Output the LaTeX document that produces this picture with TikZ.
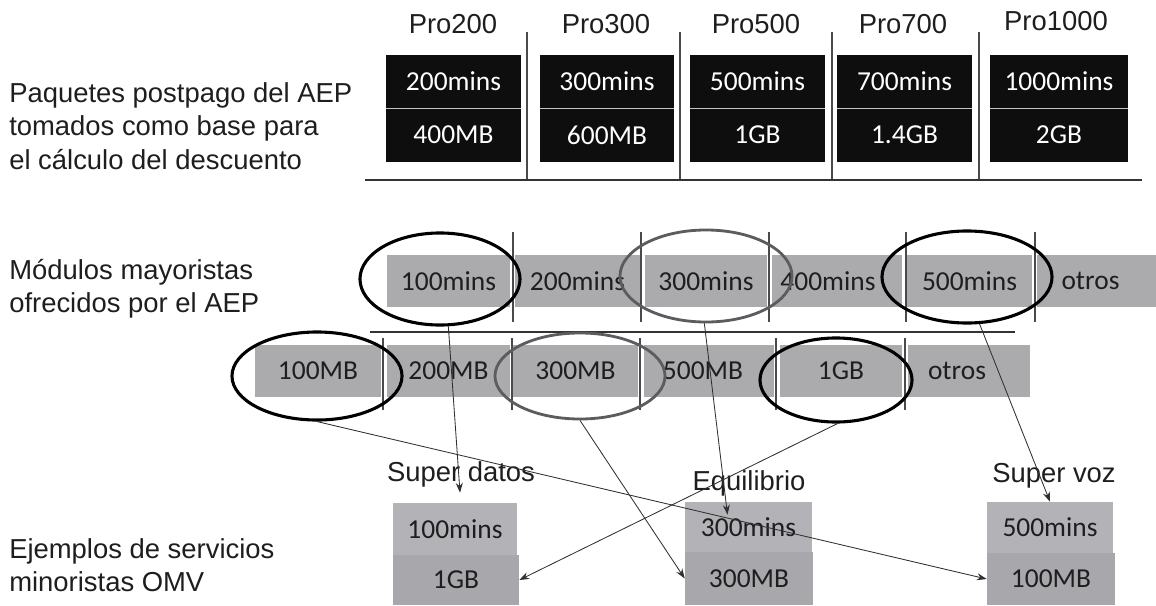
\documentclass[tikz,border=0pt]{standalone}
\usepackage{fontspec}
\setmainfont{Liberation Sans}
\newfontfamily\boxfont{Carlito}
\usetikzlibrary{shapes.geometric,arrows.meta,calc}
\definecolor{boxblack}{HTML}{0E0E0E}
\definecolor{rowgray}{HTML}{ABABAE}
\definecolor{btop}{HTML}{B3B2B6}
\definecolor{bbot}{HTML}{A8A7AB}
\definecolor{ellgray}{HTML}{5C5C60}
\definecolor{sepc}{HTML}{4A4A4A}
\definecolor{arrc}{HTML}{303030}
\definecolor{txt}{HTML}{1E1E1E}
\begin{document}
\begin{tikzpicture}[x=0.025cm,y=-0.025cm,
  lbl/.style={font=\fontsize{19.5}{23.8}\selectfont, inner sep=0pt, text=txt},
  side/.style={lbl, align=left, anchor=west},
  blk/.style={fill=boxblack, text=white, font=\boxfont\fontsize{19.5}{23}\selectfont, minimum width=3.35cm, inner sep=0pt},
  gseg/.style={fill=rowgray, text=txt, font=\boxfont\fontsize{19.5}{23}\selectfont, minimum height=1.3cm, inner sep=0pt},
  rbox/.style={text=txt, font=\boxfont\fontsize{19.5}{23}\selectfont, inner sep=0pt},
  sep/.style={draw=sepc, line width=0.8pt},
  hline/.style={draw=black!80, line width=1.1pt},
  ringb/.style={ellipse, draw=black, line width=2.2pt, inner sep=0pt},
  ringg/.style={ellipse, draw=ellgray, line width=2pt, inner sep=0pt},
  arr/.style={draw=arrc, line width=0.6pt, -{Stealth[length=7pt,width=5pt]}}
]
\useasboundingbox (0,0) rectangle (1156,605);
\fill[white] (0,0) rectangle (1156,605);

% left labels
\node[side] (l1) at (9,126) {Paquetes postpago del AEP\\tomados como base para\\el cálculo del descuento};
\node[side] (l2) at (9,289) {Módulos mayoristas\\ofrecidos por el AEP};
\node[side] (l3) at (9,565) {Ejemplos de servicios\\minoristas OMV};

% top: postpaid packages
\node[lbl, anchor=base] (t1) at (453,33) {Pro200};
\node[lbl, anchor=base] (t2) at (606,33) {Pro300};
\node[lbl, anchor=base] (t3) at (756,33) {Pro500};
\node[lbl, anchor=base] (t4) at (903,33) {Pro700};
\node[lbl, anchor=base] (t5) at (1056,30) {Pro1000};

\node[blk, minimum height=1.325cm] (p1a) at (453.5,81.5) {200mins};
\node[blk, minimum height=1.35cm]  (p1b) at (453.5,135) {400MB};
\node[blk, minimum height=1.325cm] (p2a) at (607,81.5) {300mins};
\node[blk, minimum height=1.35cm]  (p2b) at (607,135) {600MB};
\node[blk, minimum height=1.325cm] (p3a) at (757.5,81.5) {500mins};
\node[blk, minimum height=1.35cm]  (p3b) at (757.5,135) {1GB};
\node[blk, minimum height=1.325cm] (p4a) at (904.5,81.5) {700mins};
\node[blk, minimum height=1.35cm]  (p4b) at (904.5,135) {1.4GB};
\node[blk, minimum height=1.325cm, minimum width=3.45cm] (p5a) at (1059,81.5) {1000mins};
\node[blk, minimum height=1.35cm, minimum width=3.45cm]  (p5b) at (1059,135) {2GB};
\foreach \b in {p1a,p2a,p3a,p4a,p5a}
  \draw[gray!45, line width=0.5pt] (\b.south west) -- (\b.south east);

\foreach \x in {527,680,832,979}
  \draw[sep] (\x,32) -- (\x,180);
\draw[hline] (365,180) -- (1142,180);

% wholesale modules: minutes
\node[gseg, minimum width=3.075cm] (m1) at (448.5,281) {100mins};
\node[gseg, minimum width=3.125cm] (m2) at (577.5,281) {200mins};
\node[gseg, minimum width=3.05cm]  (m3) at (706,281) {300mins};
\node[gseg, minimum width=3.25cm]  (m4) at (837,281) {\hspace*{-0.45cm}400mins};
\node[gseg, minimum width=3.125cm] (m5) at (969.5,281) {500mins};
\node[gseg, minimum width=2.975cm] (m6) at (1096.5,281) {\hspace*{-0.3cm}otros};
\foreach \x in {513,641,769,906,1035}
  \draw[sep] (\x,232) -- (\x,322);
\draw[hline] (370,332) -- (1015,332);

% wholesale modules: data
\node[gseg, minimum width=3.15cm]  (d1) at (318,371) {100MB};
\node[gseg, minimum width=3.075cm] (d2) at (448.5,371) {200MB};
\node[gseg, minimum width=3.125cm] (d3) at (575.5,371) {300MB};
\node[gseg, minimum width=3.25cm]  (d4) at (709,371) {\hspace*{-0.3cm}500MB};
\node[gseg, minimum width=3.05cm]  (d5) at (841,371) {1GB};
\node[gseg, minimum width=3.05cm]  (d6) at (969,371) {\hspace*{-0.6cm}otros};
\foreach \x in {383,512,640,776,905}
  \draw[sep] (\x,338) -- (\x,410);

% selection rings
\node[ringb, minimum width=4cm,   minimum height=2.3cm]  (e1) at (440,279) {};
\node[ringg, minimum width=4.3cm, minimum height=2.3cm]  (e2) at (706,276) {};
\node[ringb, minimum width=4.25cm,minimum height=2.3cm]  (e3) at (967,277) {};
\node[ringb, minimum width=4.25cm,minimum height=2.2cm]  (e4) at (317,376) {};
\node[ringg, minimum width=4.25cm,minimum height=2.15cm] (e5) at (580,376) {};
\node[ringb, minimum width=3.8cm, minimum height=2.1cm]  (e6) at (836,380) {};

% retail examples
\node[lbl, anchor=base] (s1) at (461,481) {Super datos};
\node[lbl, anchor=base] (s2) at (749,490) {Equilibrio};
\node[lbl, anchor=base] (s3) at (1054,482) {Super voz};

\node[rbox, fill=bbot, minimum width=3.15cm, minimum height=1.25cm]  (sd2) at (456,580) {1GB};
\node[rbox, fill=btop, minimum width=3.1cm,  minimum height=1.3cm]   (sd1) at (455,529) {100mins};
\node[rbox, fill=bbot, minimum width=3.2cm,  minimum height=1.325cm] (eq2) at (749,578.5) {300MB};
\node[rbox, fill=btop, minimum width=3.175cm,minimum height=1.25cm]  (eq1) at (748.5,527) {300mins};
\node[rbox, fill=bbot, minimum width=3.2cm,  minimum height=1.3cm]   (sv2) at (1051,579) {100MB};
\node[rbox, fill=btop, minimum width=3.15cm, minimum height=1.275cm] (sv1) at (1050,527.5) {500mins};

% connectors
\draw[arr] (e1.-80) -- ($(sd1.north)+(5,-10)$);
\draw[arr] (e2.-92) -- ($(eq1.north)+(-21,13)$);
\draw[arr] (e3.-75) -- (sv1.north);
\draw[arr] (e4.-90) -- (sv2.west);
\draw[arr] (e5.-90) -- (eq2.west);
\draw[arr] (e6.-88) -- (sd2.east);
\end{tikzpicture}
\end{document}
